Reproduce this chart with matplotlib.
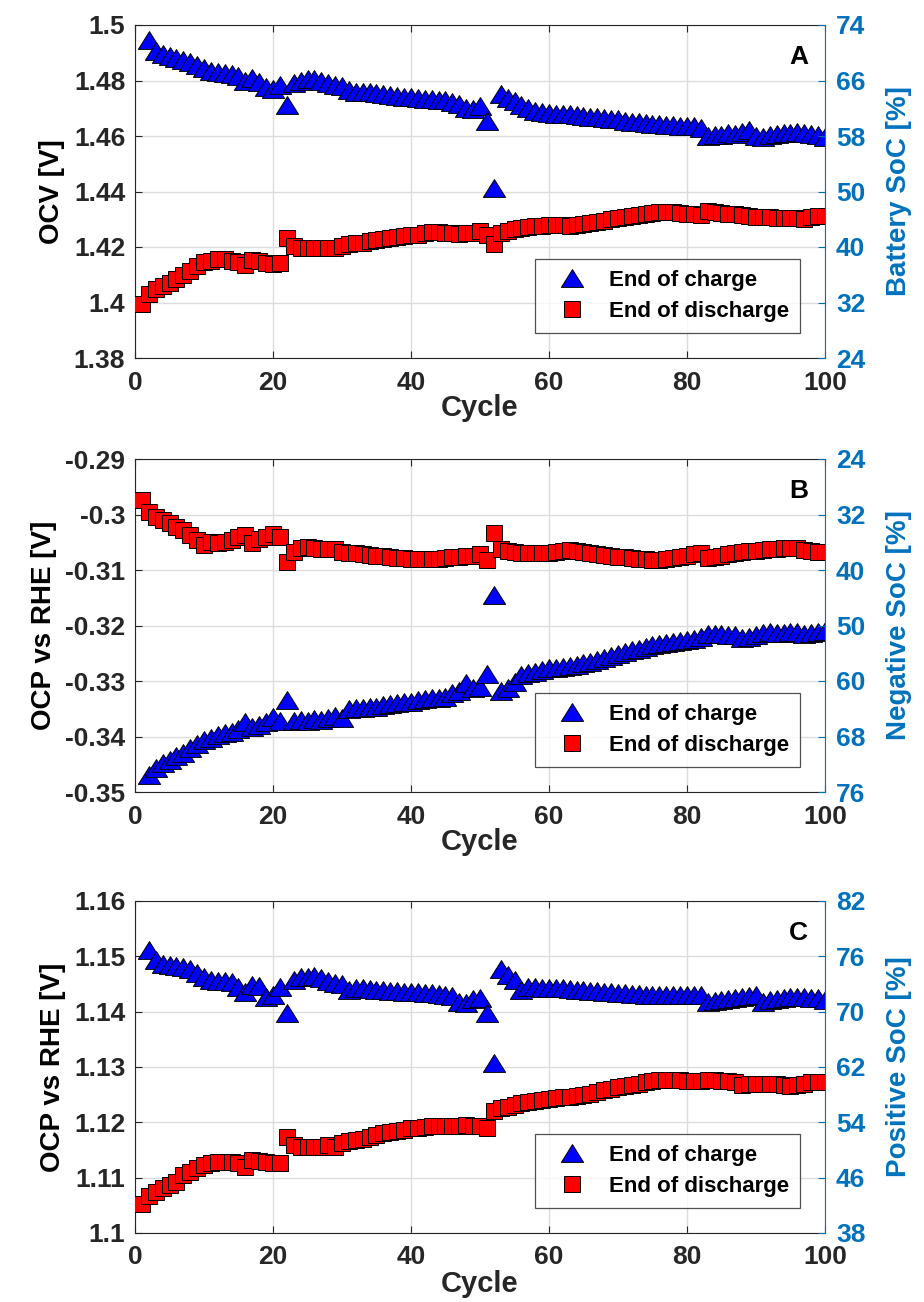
import numpy as np
import matplotlib
matplotlib.use("Agg")
import matplotlib.pyplot as plt
from matplotlib.path import Path

plt.rcParams['font.family'] = ['Liberation Sans', 'DejaVu Sans']
plt.rcParams['font.weight'] = 'bold'

# ---------------- data ----------------
cycles_dis = list(range(1, 101))
cycles_chg = list(range(2, 101))

A_charge = [1.4945, 1.4905, 1.4895, 1.4888, 1.4880, 1.4875, 1.4868, 1.4855, 1.4845, 1.4835,
            1.4830, 1.4828, 1.4822, 1.4815, 1.4800, 1.4810, 1.4795, 1.4775, 1.4768, 1.4785,
            1.4712, 1.4790, 1.4800, 1.4805, 1.4805, 1.4800, 1.4792, 1.4785, 1.4780, 1.4765,
            1.4760, 1.4760, 1.4758, 1.4755, 1.4752, 1.4748, 1.4745, 1.4742, 1.4740, 1.4738,
            1.4735, 1.4732, 1.4730, 1.4728, 1.4722, 1.4715, 1.4700, 1.4698, 1.4708, 1.4655,
            1.4413, 1.4752, 1.4738, 1.4725, 1.4710, 1.4700, 1.4690, 1.4685, 1.4682, 1.4680,
            1.4680, 1.4678, 1.4676, 1.4673, 1.4670, 1.4668, 1.4665, 1.4662, 1.4660, 1.4655,
            1.4652, 1.4650, 1.4648, 1.4645, 1.4643, 1.4640, 1.4638, 1.4637, 1.4635, 1.4635,
            1.4630, 1.4600, 1.4602, 1.4605, 1.4610, 1.4608, 1.4615, 1.4620, 1.4600, 1.4598,
            1.4603, 1.4606, 1.4610, 1.4612, 1.4615, 1.4612, 1.4608, 1.4605, 1.4595]

A_discharge = [1.3995, 1.4030, 1.4048, 1.4060, 1.4070, 1.4085, 1.4100, 1.4115, 1.4130, 1.4145,
               1.4150, 1.4155, 1.4155, 1.4150, 1.4145, 1.4135, 1.4152, 1.4148, 1.4143, 1.4140,
               1.4143, 1.4232, 1.4205, 1.4198, 1.4195, 1.4195, 1.4197, 1.4196, 1.4195, 1.4205,
               1.4210, 1.4213, 1.4216, 1.4220, 1.4225, 1.4228, 1.4232, 1.4236, 1.4240, 1.4242,
               1.4245, 1.4250, 1.4255, 1.4253, 1.4250, 1.4250, 1.4248, 1.4250, 1.4252, 1.4258,
               1.4245, 1.4210, 1.4250, 1.4258, 1.4265, 1.4270, 1.4272, 1.4275, 1.4277, 1.4278,
               1.4280, 1.4280, 1.4275, 1.4278, 1.4282, 1.4286, 1.4290, 1.4295, 1.4300, 1.4305,
               1.4308, 1.4312, 1.4316, 1.4320, 1.4323, 1.4326, 1.4327, 1.4325, 1.4323, 1.4320,
               1.4318, 1.4315, 1.4328, 1.4326, 1.4322, 1.4320, 1.4318, 1.4315, 1.4312, 1.4308,
               1.4308, 1.4307, 1.4306, 1.4306, 1.4305, 1.4303, 1.4302, 1.4308, 1.4312, 1.4312]

B_charge = [-0.3469, -0.3457, -0.3448, -0.3442, -0.3436, -0.3430, -0.3421, -0.3413, -0.3406, -0.3403,
            -0.3397, -0.3394, -0.3391, -0.3387, -0.3374, -0.3382, -0.3379, -0.3373, -0.3364, -0.3372,
            -0.3334, -0.3372, -0.3371, -0.3372, -0.3369, -0.3370, -0.3366, -0.3363, -0.3366, -0.3350,
            -0.3349, -0.3348, -0.3347, -0.3346, -0.3344, -0.3342, -0.3340, -0.3338, -0.3337, -0.3335,
            -0.3333, -0.3331, -0.3330, -0.3328, -0.3322, -0.3318, -0.3303, -0.3312, -0.3310, -0.3287,
            -0.3145, -0.3318, -0.3312, -0.3302, -0.3290, -0.3286, -0.3283, -0.3280, -0.3277, -0.3276,
            -0.3275, -0.3273, -0.3271, -0.3268, -0.3265, -0.3262, -0.3259, -0.3255, -0.3251, -0.3248,
            -0.3245, -0.3242, -0.3239, -0.3236, -0.3234, -0.3232, -0.3230, -0.3228, -0.3226, -0.3224,
            -0.3220, -0.3215, -0.3215, -0.3216, -0.3217, -0.3218, -0.3222, -0.3221, -0.3218, -0.3214,
            -0.3212, -0.3213, -0.3214, -0.3211, -0.3212, -0.3215, -0.3213, -0.3211, -0.3210]

B_discharge = [-0.2973, -0.2995, -0.3004, -0.3010, -0.3016, -0.3022, -0.3028, -0.3037, -0.3046, -0.3055,
               -0.3050, -0.3052, -0.3050, -0.3046, -0.3040, -0.3037, -0.3052, -0.3045, -0.3040, -0.3036,
               -0.3041, -0.3085, -0.3067, -0.3061, -0.3058, -0.3060, -0.3062, -0.3062, -0.3063, -0.3067,
               -0.3069, -0.3070, -0.3072, -0.3073, -0.3074, -0.3075, -0.3076, -0.3078, -0.3079, -0.3080,
               -0.3080, -0.3080, -0.3081, -0.3080, -0.3078, -0.3077, -0.3076, -0.3075, -0.3074, -0.3072,
               -0.3082, -0.3034, -0.3063, -0.3066, -0.3068, -0.3069, -0.3070, -0.3070, -0.3070, -0.3069,
               -0.3068, -0.3066, -0.3064, -0.3066, -0.3068, -0.3070, -0.3071, -0.3073, -0.3075, -0.3076,
               -0.3077, -0.3078, -0.3080, -0.3081, -0.3082, -0.3082, -0.3080, -0.3078, -0.3076, -0.3074,
               -0.3071, -0.3070, -0.3078, -0.3076, -0.3074, -0.3072, -0.3070, -0.3068, -0.3066, -0.3065,
               -0.3064, -0.3063, -0.3062, -0.3061, -0.3060, -0.3061, -0.3064, -0.3066, -0.3067, -0.3067]

C_charge = [1.1512, 1.1493, 1.1486, 1.1484, 1.1482, 1.1480, 1.1478, 1.1469, 1.1463, 1.1458,
            1.1456, 1.1455, 1.1454, 1.1445, 1.1436, 1.1448, 1.1446, 1.1427, 1.1430, 1.1445,
            1.1397, 1.1457, 1.1462, 1.1463, 1.1465, 1.1460, 1.1456, 1.1452, 1.1450, 1.1439,
            1.1442, 1.1442, 1.1441, 1.1440, 1.1439, 1.1438, 1.1437, 1.1436, 1.1436, 1.1435,
            1.1434, 1.1433, 1.1432, 1.1430, 1.1428, 1.1418, 1.1415, 1.1422, 1.1425, 1.1397,
            1.1307, 1.1478, 1.1466, 1.1458, 1.1440, 1.1445, 1.1444, 1.1443, 1.1443, 1.1443,
            1.1442, 1.1441, 1.1440, 1.1439, 1.1438, 1.1437, 1.1436, 1.1435, 1.1434, 1.1433,
            1.1432, 1.1432, 1.1431, 1.1431, 1.1431, 1.1431, 1.1431, 1.1431, 1.1431, 1.1431,
            1.1431, 1.1418, 1.1420, 1.1421, 1.1422, 1.1424, 1.1426, 1.1428, 1.1430, 1.1418,
            1.1421, 1.1423, 1.1425, 1.1426, 1.1427, 1.1426, 1.1425, 1.1424, 1.1421]

C_discharge = [1.1053, 1.1066, 1.1075, 1.1081, 1.1087, 1.1093, 1.1105, 1.1111, 1.1117, 1.1123,
               1.1126, 1.1128, 1.1129, 1.1128, 1.1126, 1.1120, 1.1132, 1.1130, 1.1128, 1.1127,
               1.1127, 1.1174, 1.1159, 1.1156, 1.1156, 1.1155, 1.1156, 1.1159, 1.1156, 1.1162,
               1.1167, 1.1168, 1.1170, 1.1173, 1.1177, 1.1180, 1.1182, 1.1185, 1.1187, 1.1189,
               1.1190, 1.1192, 1.1193, 1.1193, 1.1193, 1.1194, 1.1194, 1.1195, 1.1194, 1.1193,
               1.1190, 1.1220, 1.1225, 1.1228, 1.1232, 1.1235, 1.1237, 1.1239, 1.1241, 1.1243,
               1.1244, 1.1245, 1.1246, 1.1248, 1.1249, 1.1252, 1.1255, 1.1258, 1.1261, 1.1264,
               1.1266, 1.1268, 1.1270, 1.1273, 1.1275, 1.1276, 1.1277, 1.1277, 1.1276, 1.1274,
               1.1274, 1.1275, 1.1277, 1.1276, 1.1275, 1.1274, 1.1272, 1.1268, 1.1269, 1.1270,
               1.1270, 1.1270, 1.1269, 1.1268, 1.1266, 1.1267, 1.1270, 1.1272, 1.1273, 1.1273]

x_ticks = [0, 20, 40, 60, 80, 100]

A_left_ticks = [1.38, 1.40, 1.42, 1.44, 1.46, 1.48, 1.50]
A_left_labels = ["1.38", "1.4", "1.42", "1.44", "1.46", "1.48", "1.5"]
A_right_labels = ["24", "32", "40", "50", "58", "66", "74"]      # bottom -> top

B_left_ticks = [-0.35, -0.34, -0.33, -0.32, -0.31, -0.30, -0.29]
B_left_labels = ["-0.35", "-0.34", "-0.33", "-0.32", "-0.31", "-0.3", "-0.29"]
B_right_labels = ["76", "68", "60", "50", "40", "32", "24"]      # bottom -> top

C_left_ticks = [1.10, 1.11, 1.12, 1.13, 1.14, 1.15, 1.16]
C_left_labels = ["1.1", "1.11", "1.12", "1.13", "1.14", "1.15", "1.16"]
C_right_labels = ["38", "46", "54", "62", "70", "76", "82"]      # bottom -> top

panels = [
    dict(letter="A", ylabel="OCV [V]", rlabel="Battery SoC [%]",
         chg=A_charge, dis=A_discharge, ticks=A_left_ticks, tlabels=A_left_labels,
         rlabels=A_right_labels, rect=[135, 25, 825, 358]),
    dict(letter="B", ylabel="OCP vs RHE [V]", rlabel="Negative SoC [%]",
         chg=B_charge, dis=B_discharge, ticks=B_left_ticks, tlabels=B_left_labels,
         rlabels=B_right_labels, rect=[135, 459, 825, 792]),
    dict(letter="C", ylabel="OCP vs RHE [V]", rlabel="Positive SoC [%]",
         chg=C_charge, dis=C_discharge, ticks=C_left_ticks, tlabels=C_left_labels,
         rlabels=C_right_labels, rect=[135, 901, 825, 1233]),
]

# ---------------- style ----------------
W, H = 924, 1302
BLUE_AX = "#0072BD"
DARK = "#262626"
tri = Path([(-1, -0.8), (1, -0.8), (0, 0.8), (-1, -0.8)],
           [Path.MOVETO, Path.LINETO, Path.LINETO, Path.CLOSEPOLY])

fig = plt.figure(figsize=(W / 100, H / 100), dpi=100)

for p in panels:
    x0, y0, x1, y1 = p["rect"]
    ax = fig.add_axes([x0 / W, 1 - y1 / H, (x1 - x0) / W, (y1 - y0) / H])
    ax.plot(cycles_chg, p["chg"], linestyle="none", marker=tri, markersize=16,
            markerfacecolor="#0000FF", markeredgecolor="black", markeredgewidth=0.7,
            label="End of charge", zorder=3)
    ax.plot(cycles_dis, p["dis"], linestyle="none", marker="s", markersize=12,
            markerfacecolor="#FF0000", markeredgecolor="black", markeredgewidth=0.7,
            label="End of discharge", zorder=3)
    ax.set_xlim(0, 100)
    ax.set_ylim(p["ticks"][0], p["ticks"][-1])
    ax.set_xticks(x_ticks)
    ax.set_yticks(p["ticks"])
    ax.set_yticklabels(p["tlabels"])
    ax.grid(True, color="#dcdcdc", linewidth=1.0)
    ax.set_axisbelow(True)
    ax.tick_params(axis="both", direction="in", length=5, width=0.8, colors=DARK,
                   labelsize=19, top=True)
    ax.tick_params(axis="x", pad=9)
    ax.tick_params(axis="y", pad=7)
    for lab in ax.get_xticklabels() + ax.get_yticklabels():
        lab.set_fontweight("bold")
    for s in ["left", "top", "bottom"]:
        ax.spines[s].set_color(DARK)
        ax.spines[s].set_linewidth(0.8)
    ax.spines["right"].set_visible(False)
    ax.set_xlabel("Cycle", fontsize=21, fontweight="bold", color=DARK, labelpad=0)
    ax.set_ylabel(p["ylabel"], fontsize=20, fontweight="bold", color="black", labelpad=6)
    ax.text(0.962, 0.905, p["letter"], transform=ax.transAxes, fontsize=19,
            fontweight="bold", ha="center", va="center", color="black")
    leg = ax.legend(loc="lower left", bbox_to_anchor=(0.580, 0.075, 0.384, 0.21),
                    mode="expand", borderaxespad=0,
                    numpoints=1, frameon=True, fancybox=False,
                    prop={"weight": "bold", "size": 16}, handletextpad=0.45,
                    borderpad=0.5, labelspacing=0.45, handlelength=2.35)
    leg.get_frame().set_edgecolor(DARK)
    leg.get_frame().set_linewidth(0.9)
    leg.set_zorder(5)

    ax2 = ax.twinx()
    nlab = len(p["rlabels"])
    ax2.set_ylim(0, nlab - 1)
    ax2.set_yticks(range(nlab))
    ax2.set_yticklabels(p["rlabels"])
    ax2.tick_params(axis="y", direction="in", length=5, width=0.8, colors=BLUE_AX,
                    labelsize=19, pad=8)
    for lab in ax2.get_yticklabels():
        lab.set_fontweight("bold")
    for s in ["left", "top", "bottom"]:
        ax2.spines[s].set_visible(False)
    ax2.spines["right"].set_color(BLUE_AX)
    ax2.spines["right"].set_linewidth(0.8)
    ax2.set_ylabel(p["rlabel"], fontsize=20, fontweight="bold", color=BLUE_AX, labelpad=15)

fig.savefig("out.png", dpi=100)
